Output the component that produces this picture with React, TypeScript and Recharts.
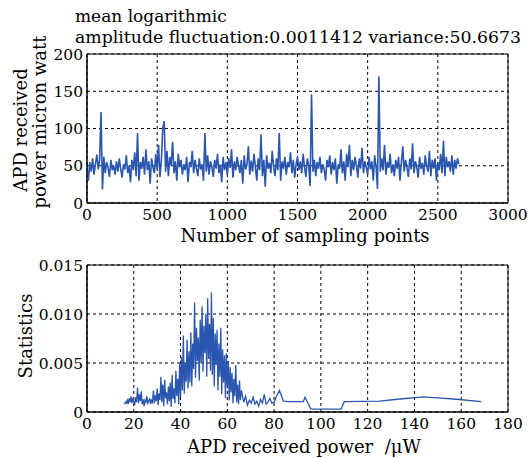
import React from "react";
import { LineChart, Line, XAxis, YAxis, CartesianGrid, ReferenceArea } from "recharts";

// ---- top chart: received power vs sample index (sample step 10) ----
const sampleStep = 10;
const powerValues = [
  48, 30, 55, 42, 60, 38, 52, 65, 45, 58,
  122, 18, 62, 40, 55, 47, 35, 58, 44, 50,
  38, 56, 42, 60, 46, 34, 52, 45, 64, 40,
  50, 28, 58, 44, 68, 36, 94, 30, 55, 46,
  62, 38, 72, 44, 56, 26, 60, 48, 40, 66,
  45, 78, 35, 58, 100, 110, 42, 70, 36, 62,
  50, 82, 40, 56, 30, 66, 48, 58, 38, 52,
  44, 62, 28, 55, 48, 70, 40, 58, 46, 36,
  60, 45, 52, 30, 94, 42, 64, 38, 56, 48,
  35, 58, 46, 66, 40, 52, 28, 62, 44, 55,
  38, 60, 47, 72, 34, 56, 44, 62, 50, 40,
  58, 26, 64, 45, 52, 76, 38, 57, 42, 66,
  48, 30, 60, 44, 92, 36, 58, 22, 64, 46,
  54, 40, 70, 48, 36, 60, 44, 94, 30, 56,
  46, 62, 38, 55, 48, 68, 40, 58, 34, 52,
  62, 44, 56, 40, 66, 48, 35, 60, 50, 23,
  146, 42, 58, 36, 55, 46, 62, 40, 52, 45,
  30, 58, 48, 64, 38, 55, 44, 60, 26, 52,
  46, 72, 40, 56, 30, 66, 48, 78, 36, 58,
  44, 62, 50, 34, 60, 46, 74, 40, 56, 48,
  38, 62, 45, 56, 30, 64, 48, 19, 170, 42,
  60, 44, 78, 38, 55, 47, 66, 40, 52, 36,
  58, 46, 62, 30, 54, 76, 42, 58, 48, 35,
  60, 45, 80, 40, 56, 48, 34, 62, 46, 54,
  38, 64, 50, 42, 70, 36, 58, 46, 60, 30,
  55, 44, 66, 40, 84, 36, 62, 48, 56, 42,
  64, 38, 58, 46, 60, 52,
];
const topXTicks = [0, 500, 1000, 1500, 2000, 2500, 3000];
const topYTicks = [0, 50, 100, 150, 200];

// ---- bottom chart: statistics vs received power ----
const denseStart = 16;
const denseStep = 0.4;
const densePermille = [
  0.8, 1.0, 0.9, 1.2, 0.8, 1.4, 1.0, 1.6, 0.9, 1.3,
  1.1, 0.7, 1.5, 1.0, 2.5, 0.9, 1.8, 1.1, 2.1, 0.8,
  1.3, 0.6, 1.2, 1.0, 1.6, 0.9, 1.1, 1.4, 0.8, 1.2,
  1.0, 2.2, 0.9, 1.7, 1.1, 2.4, 0.7, 1.9, 1.2, 3.6,
  1.0, 2.8, 0.6, 3.3, 1.4, 2.0, 0.8, 2.6, 1.1, 3.0,
  0.5, 3.8, 1.3, 2.4, 0.9, 4.2, 1.6, 3.4, 0.8, 4.9,
  1.5, 5.6, 2.2, 7.8, 1.9, 5.0, 3.1, 7.4, 2.4, 6.2,
  3.0, 8.1, 2.6, 7.0, 4.4, 11.2, 3.5, 8.6, 5.2, 7.6,
  3.2, 9.4, 5.0, 10.8, 4.1, 8.8, 6.0, 10.0, 3.6, 11.6,
  5.4, 9.0, 4.2, 12.2, 3.8, 9.6, 2.6, 8.0, 4.8, 8.4,
  2.2, 7.0, 3.6, 8.6, 1.8, 6.4, 3.0, 5.8, 1.4, 6.0,
  2.6, 5.2, 1.2, 4.6, 2.0, 4.0, 0.9, 3.4, 1.6, 4.8,
  1.0, 2.8, 0.8, 3.2, 1.2, 2.2,
];
const tailPower = [
  67, 67.8, 68.6, 69.4, 70.2, 71, 71.8, 72.6, 73.4, 74.2, 75, 75.8, 76.6, 77.4, 78.2, 79,
  80, 81, 82.3, 84, 86, 92.5, 93.2, 94.5, 95.7, 108.6, 110, 125, 135, 144, 150, 158, 168.5,
];
const tailPermille = [
  1.0, 1.6, 0.7, 1.2, 0.9, 1.5, 0.8, 1.1, 0.6, 1.3, 0.9, 1.8, 0.8, 1.0, 1.4, 0.9,
  1.0, 1.6, 2.2, 1.1, 1.05, 1.05, 1.5, 0.9, 0.3, 0.3, 1.05, 1.1, 1.35, 1.55, 1.45, 1.3, 1.05,
];
const botXTicks = [0, 20, 40, 60, 80, 100, 120, 140, 160, 180];
const botYTicks = [0, 0.005, 0.01, 0.015];

const topData = powerValues.map((v, i) => ({ x: i * sampleStep, y: v }));
const botData = [
  ...densePermille.map((v, i) => ({ x: denseStart + i * denseStep, y: v / 1000 })),
  ...tailPower.map((p, i) => ({ x: p, y: tailPermille[i] / 1000 })),
];

const FONT = "DejaVu Serif";
const LINE = "#2a56b0";
const tickStyle = { fontFamily: FONT, fontSize: 15.5, fill: "#000" };

const fmtStat = (v: number) => (v === 0 ? "0" : v.toFixed(3));

export default function App() {
  return (
    <div style={{ position: "absolute", left: 0, top: 0, width: 528, height: 458, background: "#fff" }}>
      <div style={{ position: "absolute", left: 0, top: 0 }}>
        <LineChart width={528} height={250} data={topData} margin={{ top: 54, right: 20, left: 0, bottom: 0 }}>
          <CartesianGrid stroke="#000" strokeDasharray="3 3" strokeWidth={1} />
          <XAxis
            type="number"
            dataKey="x"
            domain={[0, 3000]}
            ticks={topXTicks}
            height={47}
            tickLine={false}
            tickSize={0}
            tickMargin={6}
            axisLine={{ stroke: "#000" }}
            tick={tickStyle}
            interval={0}
          />
          <YAxis
            type="number"
            domain={[0, 200]}
            ticks={topYTicks}
            width={87}
            tickLine={false}
            tickSize={0}
            tickMargin={4}
            axisLine={{ stroke: "#000" }}
            tick={tickStyle}
            interval={0}
          />
          <ReferenceArea x1={0} x2={3000} y1={0} y2={200} fill="none" stroke="#000" strokeWidth={1} ifOverflow="visible" />
          <Line type="linear" dataKey="y" stroke={LINE} strokeWidth={1.6} dot={false} isAnimationActive={false} />
        </LineChart>
      </div>
      <div style={{ position: "absolute", left: 0, top: 250 }}>
        <LineChart width={528} height={208} data={botData} margin={{ top: 15, right: 20, left: 0, bottom: 0 }}>
          <CartesianGrid stroke="#000" strokeDasharray="3 3" strokeWidth={1} />
          <XAxis
            type="number"
            dataKey="x"
            domain={[0, 180]}
            ticks={botXTicks}
            height={46}
            tickLine={false}
            tickSize={0}
            tickMargin={6}
            axisLine={{ stroke: "#000" }}
            tick={tickStyle}
            interval={0}
          />
          <YAxis
            type="number"
            domain={[0, 0.015]}
            ticks={botYTicks}
            width={87}
            tickLine={false}
            tickSize={0}
            tickMargin={4}
            axisLine={{ stroke: "#000" }}
            tick={tickStyle}
            tickFormatter={fmtStat}
            interval={0}
          />
          <ReferenceArea x1={0} x2={180} y1={0} y2={0.015} fill="none" stroke="#000" strokeWidth={1} ifOverflow="visible" />
          <Line type="linear" dataKey="y" stroke={LINE} strokeWidth={1.3} dot={false} isAnimationActive={false} />
        </LineChart>
      </div>
      <svg width={528} height={458} style={{ position: "absolute", left: 0, top: 0, pointerEvents: "none" }}>
        <g fontFamily={FONT} fill="#000">
          <text x={75} y={22} fontSize={17}>mean logarithmic</text>
          <text x={75} y={43} fontSize={17} textLength={446} lengthAdjust="spacingAndGlyphs">amplitude fluctuation:0.0011412 variance:50.6673</text>
          <text x={305} y={242} fontSize={18} textAnchor="middle">Number of sampling points</text>
          <text x={304} y={453} fontSize={18} textAnchor="middle" style={{ whiteSpace: "pre" }}>{"APD received power\u00a0\u00a0/μW"}</text>
          <text transform="translate(27,130) rotate(-90)" fontSize={18} textAnchor="middle">APD received</text>
          <text transform="translate(46,122) rotate(-90)" fontSize={18} textAnchor="middle">power micron watt</text>
          <text transform="translate(32,336) rotate(-90)" fontSize={18} textAnchor="middle">Statistics</text>
        </g>
      </svg>
    </div>
  );
}
